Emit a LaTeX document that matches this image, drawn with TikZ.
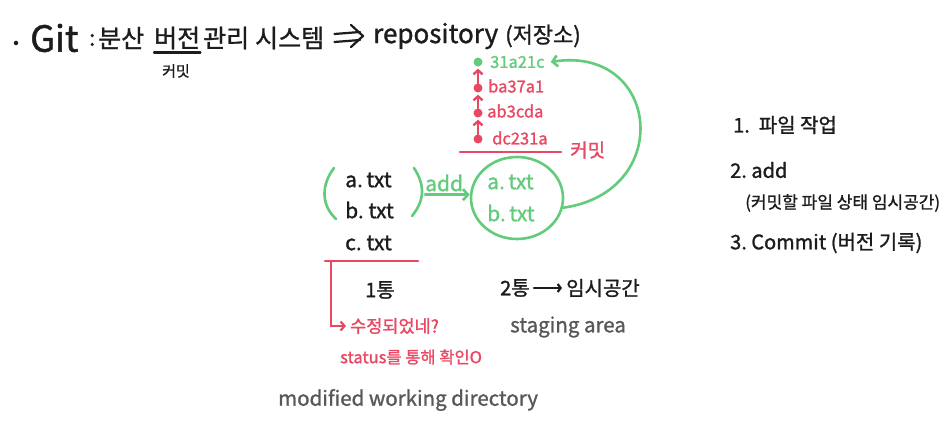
\documentclass[tikz,border=0pt]{standalone}
\usepackage{fontspec}
\setmainfont{Noto Sans CJK KR}[FakeBold=1.2]
\usetikzlibrary{arrows.meta,shapes.geometric}
\definecolor{hgreen}{RGB}{98,204,124}
\definecolor{hred}{RGB}{232,72,98}
\definecolor{hgray}{RGB}{88,88,88}
\definecolor{hblack}{RGB}{28,28,28}
\newcommand{\fs}[1]{\fontsize{#1}{#1}\selectfont}
\tikzset{
  txt/.style={anchor=west, inner sep=0pt, text=hblack},
  gtxt/.style={txt, text=hgreen},
  rtxt/.style={txt, text=hred},
  graytxt/.style={txt, text=hgray},
  rdot/.style={circle, fill=hred, minimum size=9pt, inner sep=0pt},
  gdot/.style={circle, fill=hgreen, minimum size=9pt, inner sep=0pt},
  rarrow/.style={draw=hred, line width=2.4pt, line cap=round, -{Straight Barb[length=4pt,width=9pt]}},
  garrow/.style={draw=hgreen, line width=2.6pt, line cap=round, -{Straight Barb[length=5pt,width=11pt]}},
  rline/.style={draw=hred, line width=2.6pt, line cap=round},
  gline/.style={draw=hgreen, line width=2.6pt, line cap=round},
  bline/.style={draw=hblack, line width=2.2pt, line cap=round, line join=round},
}
\begin{document}
\begin{tikzpicture}[x=1pt,y=-1pt]
\useasboundingbox[fill=white] (0,0) rectangle (950,430);
% title
\node[circle, fill=hblack, minimum size=4.5pt, inner sep=0pt] (bullet) at (16,43) {};
\node[txt, font=\fs{36}] (git) at (30,38) {Git};
\node[txt, font=\fs{22}] (colon) at (89,40) {:};
\node[txt, font=\fs{25}] (w1) at (98,38) {분산};
\node[txt, font=\fs{25}] (w2) at (154,38) {버전};
\node[txt, font=\fs{25}] (w3) at (203,38) {관리};
\node[txt, font=\fs{25}] (w4) at (255,38) {시스템};
\node[txt, font=\fs{26}] (repo) at (373,36) {repository};
\node[txt, font=\fs{22}] (store) at (505,36) {(저장소)};
% double arrow w4 => repo
\draw[bline] ([xshift=10pt,yshift=4pt]w4.east) -- ([xshift=-13pt,yshift=4pt]repo.west);
\draw[bline] ([xshift=10pt,yshift=-4pt]w4.east) -- ([xshift=-13pt,yshift=-4pt]repo.west);
\draw[bline] ([xshift=-22pt,yshift=11pt]repo.west) -- ([xshift=-10pt]repo.west) -- ([xshift=-22pt,yshift=-11pt]repo.west);
\draw[bline] ([yshift=-3pt]w2.south west) -- ([yshift=-3pt]w2.south east);
\node[txt, font=\fs{15}] (commitk) at (162,71) {커밋};
% commit chain
\node[gdot] (d0) at (478,62) {};
\node[rdot] (d1) at (478,88) {};
\node[rdot] (d2) at (478,113) {};
\node[rdot] (d3) at (478,139) {};
\draw[rarrow, shorten >=2pt] (d1) -- (d0);
\draw[rarrow, shorten >=2pt] (d2) -- (d1);
\draw[rarrow, shorten >=2pt] (d3) -- (d2);
\node[gtxt, font=\fs{16.5}] (c0) at (490,62) {31a21c};
\node[rtxt, font=\fs{16.5}] (c1) at (488,86) {ba37a1};
\node[rtxt, font=\fs{16.5}] (c2) at (487,111) {ab3cda};
\node[rtxt, font=\fs{16.5}] (c3) at (492,138) {dc231a};
\coordinate (rl0) at (460,152);
\coordinate (rl1) at (561,152);
\draw[rline] (rl0) -- (rl1);
\node[rtxt, font=\fs{19}] (commitr) at (570,150) {커밋};
% working files
\node[txt, font=\fs{21}] (fa) at (345,180) {a.\,txt};
\node[txt, font=\fs{21}] (fb) at (345,210) {b.\ txt};
\draw[gline] (334,168) .. controls (321,185) and (321,205) .. (336,219);
\draw[gline] (414,168) .. controls (425,185) and (425,200) .. (412,216);
\node[gtxt, font=\fs{21}] (add) at (425,183) {add};
% staging circle
\node[ellipse, draw=hgreen, line width=2.6pt, minimum width=92pt, minimum height=82pt] (stage) at (517,198) {};
\node[gtxt, font=\fs{21}] (sa) at (487,182) {a.\,txt};
\node[gtxt, font=\fs{21}] (sb) at (487,213) {b.\,txt};
\draw[garrow] ([yshift=-3pt]add.south west) -- ([yshift=-3pt]add.south west -| stage.west);
\draw[garrow] (stage.-12) .. controls (675,192) and (660,45) .. ([xshift=6pt]c0.east);
% c.txt and working directory
\node[txt, font=\fs{21}] (fc) at (345,243) {c.\ txt};
\coordinate (wl0) at (325,261);
\coordinate (wl1) at (418,261);
\draw[rline] (wl0) -- (wl1);
\coordinate (wdown) at (331,262);
\node[rtxt, font=\fs{17.5}] (q) at (350,326) {수정되었네?};
\draw[rarrow, line width=2.2pt] (wdown) |- ([xshift=-4pt]q.west);
\node[rtxt, font=\fs{16.5}] (st) at (340,357) {status를 통해 확인O};
\node[txt, font=\fs{20}] (t1) at (365,290) {1통};
\node[txt, font=\fs{20}] (t2) at (500,288) {2통};
\node[txt, font=\fs{20}] (tmp) at (566,288) {임시공간};
\draw[bline, -{Straight Barb[length=3pt,width=8pt]}] ([xshift=4pt]t2.east) -- ([xshift=-4pt]tmp.west);
\node[graytxt, font=\fs{20.5}] (sarea) at (510,327) {staging area};
\node[graytxt, font=\fs{20.5}] (mwd) at (278,400) {modified working directory};
% right list
\node[txt, font=\fs{20}] (s1) at (733,125) {1.\ \ 파일 작업};
\node[txt, font=\fs{20}] (s2) at (730,170) {2.\ add};
\node[txt, font=\fs{17}] (s2b) at (745,203) {(커밋할 파일 상태 임시공간)};
\node[txt, font=\fs{20}] (s3) at (730,243) {3.\ Commit (버전 기록)};
\end{tikzpicture}
\end{document}
